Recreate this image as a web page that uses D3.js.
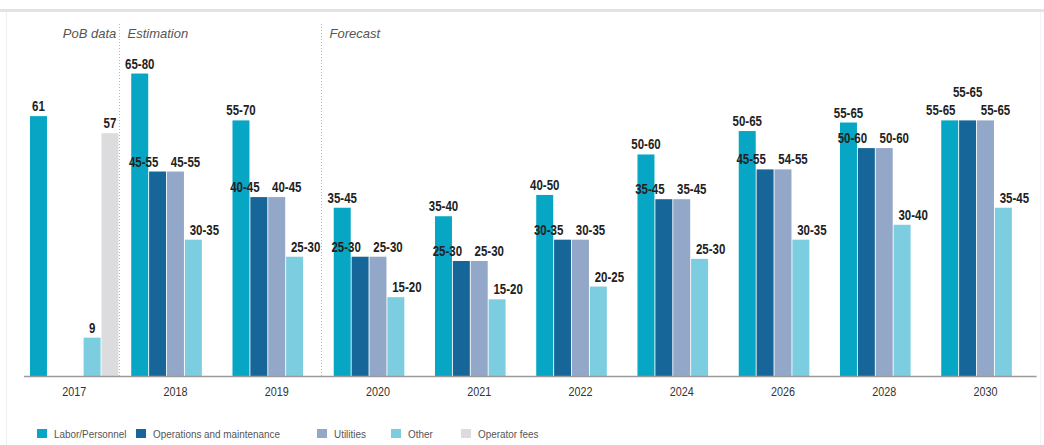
<html>

<head>
	<title>Cost breakdown</title>
	<script src="https://d3js.org/d3.v7.min.js"></script>
	<style>
		body {
			margin: 0;
			background: #fff;
		}

		.val {
			font-family: "Liberation Sans", Arial, sans-serif;
			font-weight: bold;
			font-size: 14px;
			fill: #222;
		}

		.phase {
			font-family: "Liberation Sans", Arial, sans-serif;
			font-style: italic;
			font-size: 13px;
			fill: #555;
		}

		.legend text {
			font-family: "Liberation Sans", Arial, sans-serif;
			font-size: 11px;
			fill: #555;
		}
	</style>
</head>

<body>
	<div id="chart"></div>
	<script>
		// chart values
		let years = ["2017", "2018", "2019", "2020", "2021", "2022", "2024", "2026", "2028", "2030"];
		let seriesNames = ["Labor/Personnel", "Operations and maintenance", "Utilities", "Other", "Operator fees"];

		let labor = [61, 71, 60, 39.5, 37.5, 42.5, 52, 57.5, 59.5, 60];
		let ops = [null, 48, 42, 28, 27, 32, 41.5, 48.5, 53.5, 60];
		let utilities = [null, 48, 42, 28, 27, 32, 41.5, 48.5, 53.5, 60];
		let other = [9, 32, 28, 18.5, 18, 21, 27.5, 32, 35.5, 39.5];
		let fees = [57, null, null, null, null, null, null, null, null, null];

		let laborLbl = ["61", "65-80", "55-70", "35-45", "35-40", "40-50", "50-60", "50-65", "55-65", "55-65"];
		let opsLbl = [null, "45-55", "40-45", "25-30", "25-30", "30-35", "35-45", "45-55", "50-60", "55-65"];
		let utilLbl = [null, "45-55", "40-45", "25-30", "25-30", "30-35", "35-45", "54-55", "50-60", "55-65"];
		let otherLbl = ["9", "30-35", "25-30", "15-20", "15-20", "20-25", "25-30", "30-35", "30-40", "35-45"];
		let feesLbl = ["57", null, null, null, null, null, null, null, null, null];

		let phases = [
			{ name: "PoB data", after: null },
			{ name: "Estimation", after: "2017" },
			{ name: "Forecast", after: "2019" }
		];

		let color = ["#06a6c4", "#17669a", "#93a8c8", "#7dcde0", "#dcdcdf"];
		let labelShift = [0, -14, 10, 11, 0];

		let values = [labor, ops, utilities, other, fees];
		let labels = [laborLbl, opsLbl, utilLbl, otherLbl, feesLbl];

		let W = 1044, H = 445, base = 376;
		let narrow = 0.82;

		let svg = d3.select("#chart").append("svg")
			.attr("width", W)
			.attr("height", H);

		// frame
		svg.append("rect").attr("x", 0).attr("y", 9).attr("width", W).attr("height", 3).attr("fill", "#e3e3e3");
		svg.append("line").attr("x1", 6.5).attr("x2", 6.5).attr("y1", 12).attr("y2", H)
			.attr("stroke", "#efefef");
		svg.append("line").attr("x1", 1040.5).attr("x2", 1040.5).attr("y1", 12).attr("y2", H)
			.attr("stroke", "#f3f3f3");

		let x0 = d3.scaleBand().domain(years).range([23.6, 1036.1]).paddingInner(0.126).paddingOuter(0.063);
		let x1 = d3.scaleBand().domain(d3.range(5)).range([0, x0.bandwidth()]).paddingInner(0.05);
		let y = d3.scaleLinear().domain([0, 80]).range([base, base - 340.8]);

		let cells = [];
		years.forEach(function (yr, i) {
			values.forEach(function (s, k) {
				if (s[i] != null) cells.push({ year: yr, k: k, v: s[i], label: labels[k][i] });
			});
		});

		let g = svg.append("g");

		g.selectAll("rect.bar").data(cells).enter().append("rect")
			.attr("class", "bar")
			.attr("x", function (d) {
				return x0(d.year) + x1(d.k);
			})
			.attr("y", function (d) {
				return y(d.v);
			})
			.attr("width", x1.bandwidth())
			.attr("height", function (d) {
				return base - y(d.v);
			})
			.attr("fill", function (d) {
				return color[d.k];
			});

		// phase separators
		phases.forEach(function (p) {
			if (p.after != null) {
				let sx = Math.round(x0(p.after) + x0.bandwidth() + x0.step() * x0.paddingInner() / 2 - 6) + 0.5;
				svg.append("line")
					.attr("x1", sx).attr("x2", sx).attr("y1", 24).attr("y2", base)
					.attr("stroke", "#b8b8b8").attr("stroke-dasharray", "1,2");
				svg.append("text").attr("class", "phase")
					.attr("x", sx + 8).attr("y", 38).text(p.name);
			} else {
				let ex = x0(years[1]) - x0.step() * x0.paddingInner() / 2 - 4.5;
				svg.append("text").attr("class", "phase")
					.attr("x", ex - 4).attr("y", 38).attr("text-anchor", "end").text(p.name);
			}
		});

		// value labels
		g.selectAll("text.val").data(cells).enter().append("text")
			.attr("class", "val")
			.attr("text-anchor", "middle")
			.attr("transform", function (d) {
				let dx = d.label.length > 2 ? labelShift[d.k] : 0;
				if (d.year == "2030" && d.k == 0) dx = -9;
				if (d.year == "2030" && d.k == 1) dx = 0;
				let dy = (d.year == "2030" && d.k == 1) ? -23 : -5;
				let tx = x0(d.year) + x1(d.k) + x1.bandwidth() / 2 + dx;
				return "translate(" + tx + "," + (y(d.v) + dy) + ") scale(" + narrow + ",1)";
			})
			.text(function (d) {
				return d.label;
			});

		// x axis
		let axis = svg.append("g")
			.attr("transform", "translate(0," + base + ")")
			.call(d3.axisBottom(x0).tickSize(0).tickPadding(10));
		axis.select(".domain").attr("stroke", "#9a9a9a").attr("stroke-width", 1.5);
		axis.selectAll("text")
			.attr("font-family", "'Liberation Sans', Arial, sans-serif")
			.attr("font-size", 13.5)
			.attr("fill", "#333")
			.attr("transform", "scale(0.8,1)");

		// legend
		let legX = [37, 136, 317, 391, 461];
		let leg = svg.append("g").attr("class", "legend")
			.selectAll("g").data(seriesNames).enter().append("g")
			.attr("transform", function (d, i) {
				return "translate(" + legX[i] + ",429)";
			});
		leg.append("rect").attr("width", 10).attr("height", 9)
			.attr("fill", function (d, i) {
				return color[i];
			});
		leg.append("text")
			.attr("transform", "translate(17,8.5) scale(0.9,1)")
			.text(function (d) {
				return d;
			});
	</script>
</body>

</html>
